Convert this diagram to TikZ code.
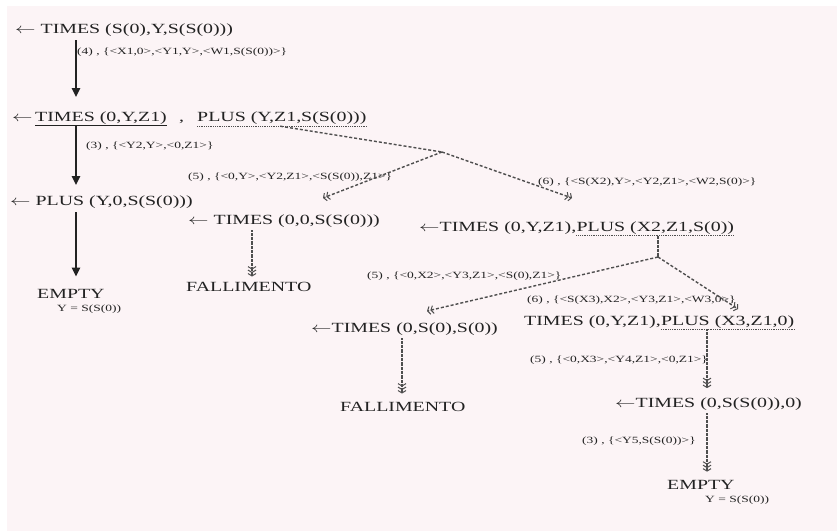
\documentclass[tikz,border=0pt]{standalone}
\usepackage{fontspec}
\setmainfont{Liberation Serif}
\usepackage{graphicx}
\usetikzlibrary{arrows.meta,calc}
\definecolor{ink}{RGB}{34,34,34}
\definecolor{paper}{RGB}{252,244,246}
\newcommand{\stx}[1]{\scalebox{1.42}[1]{#1}}
\tikzset{
  maintext/.style={anchor=base west, inner sep=0pt, text=ink, font=\fontsize{14}{16}\selectfont},
  labeltext/.style={anchor=base west, inner sep=0pt, text=ink, font=\fontsize{9.5}{11}\selectfont},
  barb/.tip={Straight Barb[length=2.4pt,width=8pt,line width=1pt]},
  solidarrow/.style={draw=ink, line width=2.2pt, -{Triangle[width=8pt,length=9pt]}},
  dotarrow/.style={draw=ink!80, line width=1.7pt, dash pattern=on 0.8pt off 0.5pt, -{barb[]barb[]barb[]}},
  dotline/.style={draw=ink!80, line width=1.7pt, dash pattern=on 0.8pt off 0.5pt},
  dashline/.style={draw=ink!80, line width=1.4pt, dash pattern=on 3pt off 2pt},
  dasharrow/.style={dashline, -{barb[]barb[]}},
  solidunder/.style={draw=ink, line width=1pt},
  dotunder/.style={draw=ink!80, line width=1.2pt, dash pattern=on 1pt off 0.8pt},
}
\begin{document}
\begin{tikzpicture}[x=1pt,y=-1pt]
\useasboundingbox (0,0) rectangle (837,531);
\fill[white] (0,0) rectangle (837,531);
\fill[paper] (7,6) rectangle (837,531);

% main nodes
\node[maintext] (n1) at (15,33) {\stx{$\leftarrow$ TIMES (S(0),Y,S(S(0)))}};
\node[maintext] (n2a) at (12,121) {\stx{$\leftarrow$}};
\node[maintext] (n2t) at (35,121) {\stx{TIMES (0,Y,Z1)}};
\node[maintext] (n2c) at (179,121) {\stx{,}};
\node[maintext] (n2p) at (197,121) {\stx{PLUS (Y,Z1,S(S(0)))}};
\node[maintext] (n3) at (10,205) {\stx{$\leftarrow$ PLUS (Y,0,S(S(0)))}};
\node[maintext] (n4) at (188,224) {\stx{$\leftarrow$ TIMES (0,0,S(S(0)))}};
\node[maintext] (n5) at (37,298) {\stx{EMPTY}};
\node[labeltext] (n5y) at (57,311) {\stx{Y = S(S(0))}};
\node[maintext] (n6) at (186,291) {\stx{FALLIMENTO}};
\node[maintext] (n7t) at (419,231) {\stx{$\leftarrow$TIMES (0,Y,Z1),}};
\node[maintext] (n7p) at (n7t.base east) {\stx{PLUS (X2,Z1,S(0))}};
\node[maintext] (n8) at (311,332) {\stx{$\leftarrow$TIMES (0,S(0),S(0))}};
\node[maintext] (n9) at (340,411) {\stx{FALLIMENTO}};
\node[maintext] (n10t) at (524,325) {\stx{TIMES (0,Y,Z1),}};
\node[maintext] (n10p) at (n10t.base east) {\stx{PLUS (X3,Z1,0)}};
\node[maintext] (n11) at (615,407) {\stx{$\leftarrow$TIMES (0,S(S(0)),0)}};
\node[maintext] (n12) at (667,489) {\stx{EMPTY}};
\node[labeltext] (n12y) at (705,502) {\stx{Y = S(S(0))}};

% labels
\node[labeltext] (l1) at (77,54) {\stx{(4) , \{<X1,0>,<Y1,Y>,<W1,S(S(0))>\}}};
\node[labeltext] (l2) at (86,148) {\stx{(3) , \{<Y2,Y>,<0,Z1>\}}};
\node[labeltext] (l3) at (188,179) {\stx{(5) , \{<0,Y>,<Y2,Z1>,<S(S(0)),Z1>\}}};
\node[labeltext] (l4) at (538,184) {\stx{(6) , \{<S(X2),Y>,<Y2,Z1>,<W2,S(0)>\}}};
\node[labeltext] (l5) at (367,278) {\stx{(5) , \{<0,X2>,<Y3,Z1>,<S(0),Z1>\}}};
\node[labeltext] (l6) at (527,302) {\stx{(6) , \{<S(X3),X2>,<Y3,Z1>,<W3,0>\}}};
\node[labeltext] (l7) at (530,362) {\stx{(5) , \{<0,X3>,<Y4,Z1>,<0,Z1>\}}};
\node[labeltext] (l8) at (582,443) {\stx{(3) , \{<Y5,S(S(0))>\}}};

% underlines
\draw[solidunder] ([yshift=-1.5pt]n2t.south west) -- ([yshift=-1.5pt]n2t.south east);
\draw[dotunder] ([yshift=-2pt]n2p.south west) coordinate (u2l) -- ([yshift=-2pt]n2p.south east) coordinate (u2r);
\draw[dotunder] ([yshift=-1.5pt]n7p.south west) coordinate (u7l) -- ([yshift=-1.5pt]n7p.south east) coordinate (u7r);
\draw[dotunder] ([yshift=-1pt]n10p.south west) coordinate (u10l) -- ([yshift=-1pt]n10p.south east) coordinate (u10r);

% helper coordinates
\coordinate (xa) at (76,0);
\coordinate (xb) at (252,0);
\coordinate (xc) at (402,0);
\coordinate (xd) at (707,0);
\coordinate (b1) at (442,152);
\coordinate (b2) at (658,257);
\coordinate (t1) at (323,198);
\coordinate (t2) at (572,198);
\coordinate (t3) at (427,311);
\coordinate (t4) at (738,309);

% solid arrows
\draw[solidarrow] ([yshift=-4pt]n1.south -| xa) -- ([yshift=14pt]n2t.north -| xa);
\draw[solidarrow] ([yshift=-1.5pt]n2t.south -| xa) -- ([yshift=10pt]n3.north -| xa);
\draw[solidarrow] ([yshift=-4pt]n3.south -| xa) -- ([yshift=12pt]n5.north -| xa);

% dotted arrows
\draw[dotarrow] ([yshift=-3pt]n4.south -| xb) -- ([yshift=5pt]n6.north -| xb);
\draw[dotarrow] ([yshift=-3pt]n8.south -| xc) -- ([yshift=8pt]n9.north -| xc);
\draw[dotarrow] (u10l -| xd) -- ([yshift=9pt]n11.north -| xd);
\draw[dotarrow] ([yshift=-3pt]n11.south -| xd) -- ([yshift=8pt]n12.north -| xd);

% dashed branches
\draw[dashline] ($(u2l)!0.49!(u2r)$) -- (b1);
\draw[dasharrow] (b1) -- (t1);
\draw[dasharrow] (b1) -- (t2);
\draw[dotline] (u7l -| b2) -- (b2);
\draw[dasharrow] (b2) -- (t3);
\draw[dasharrow] (b2) -- (t4);
\end{tikzpicture}
\end{document}
